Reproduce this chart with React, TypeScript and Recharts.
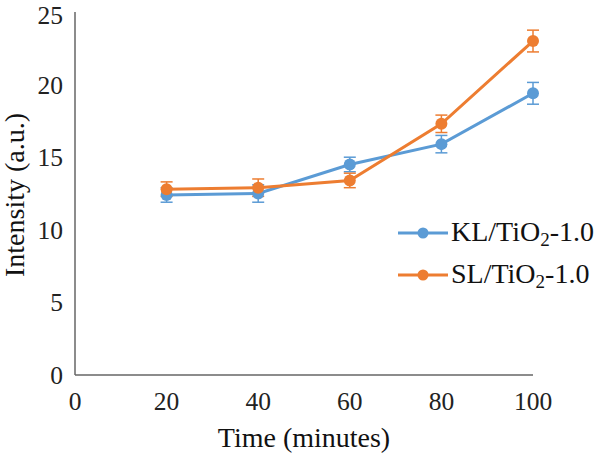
import React from 'react'
import { LineChart, Line, XAxis, YAxis, ErrorBar, Legend } from 'recharts'

const times = [20, 40, 60, 80, 100]
const klValues = [12.4, 12.5, 14.5, 15.9, 19.4]
const klErrors = [0.5, 0.6, 0.5, 0.6, 0.75]
const slValues = [12.8, 12.9, 13.4, 17.3, 23.0]
const slErrors = [0.5, 0.6, 0.5, 0.6, 0.75]
const xTicks = [0, 20, 40, 60, 80, 100]
const yTicks = [0, 5, 10, 15, 20, 25]

const BLUE = '#5B9BD5'
const ORANGE = '#ED7D31'
const FONT = 'Liberation Serif, Times New Roman, serif'

const data = times.map((t, i) => ({
  time: t,
  kl: klValues[i],
  klErr: klErrors[i],
  sl: slValues[i],
  slErr: slErrors[i],
}))

const series = [
  { name: 'KL', color: BLUE },
  { name: 'SL', color: ORANGE },
]

const tickStyle = { fill: '#222', fontSize: 25.5, fontFamily: FONT }

function LegendBox() {
  return (
    <div style={{ fontFamily: FONT, fontSize: 28, color: '#111' }}>
      {series.map((s) => (
        <div key={s.name} style={{ display: 'flex', alignItems: 'center', height: 42 }}>
          <svg width={52} height={14} style={{ marginRight: 2 }}>
            <line x1={1} y1={7} x2={51} y2={7} stroke={s.color} strokeWidth={3} />
            <circle cx={26} cy={7} r={5.5} fill={s.color} />
          </svg>
          <span style={{ lineHeight: '30px' }}>
            {s.name}/TiO
            <span style={{ fontSize: '0.68em', position: 'relative', top: '0.3em' }}>2</span>
            -1.0
          </span>
        </div>
      ))}
    </div>
  )
}

export default function App() {
  return (
    <div style={{ position: 'absolute', left: 0, top: 0, background: '#fff' }}>
      <LineChart
        width={598}
        height={457}
        data={data}
        margin={{ top: 12, right: 65, bottom: 0, left: 0 }}
      >
        <XAxis
          dataKey="time"
          type="number"
          domain={[0, 100]}
          ticks={xTicks}
          tickLine={false}
          tickSize={6}
          tickMargin={11}
          height={82}
          stroke="#666"
          strokeWidth={1.5}
          tick={tickStyle}
          label={{
            content: () => (
              <text x={304} y={447} textAnchor="middle" fill="#111" fontSize={28} fontFamily={FONT}>
                Time (minutes)
              </text>
            ),
          }}
        />
        <YAxis
          type="number"
          domain={[0, 25]}
          ticks={yTicks}
          width={75}
          tickLine={false}
          tickSize={6}
          tickMargin={6}
          stroke="#666"
          strokeWidth={1.5}
          tick={tickStyle}
          label={{
            content: () => (
              <text
                x={24}
                y={195}
                transform="rotate(-90, 24, 195)"
                textAnchor="middle"
                fill="#111"
                fontSize={28}
                fontFamily={FONT}
              >
                Intensity (a.u.)
              </text>
            ),
          }}
        />
        <Legend
          layout="horizontal"
          verticalAlign="middle"
          align="center"
          content={() => <LegendBox />}
          wrapperStyle={{ left: 397, top: 212, width: 200 }}
        />
        <Line
          dataKey="kl"
          stroke={BLUE}
          strokeWidth={3}
          dot={{ r: 6, fill: BLUE, stroke: BLUE, strokeWidth: 0 }}
          isAnimationActive={false}
        >
          <ErrorBar dataKey="klErr" width={6} strokeWidth={1.5} stroke={BLUE} direction="y" />
        </Line>
        <Line
          dataKey="sl"
          stroke={ORANGE}
          strokeWidth={3}
          dot={{ r: 6, fill: ORANGE, stroke: ORANGE, strokeWidth: 0 }}
          isAnimationActive={false}
        >
          <ErrorBar dataKey="slErr" width={6} strokeWidth={1.5} stroke={ORANGE} direction="y" />
        </Line>
      </LineChart>
    </div>
  )
}
